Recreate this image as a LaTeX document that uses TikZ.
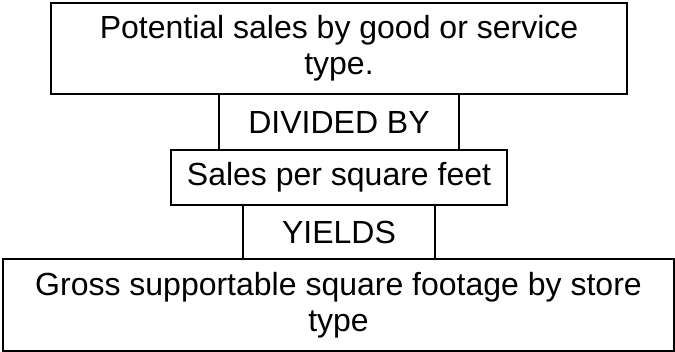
\documentclass[tikz,border=0pt]{standalone}
\usepackage{fontspec}
\setmainfont{Liberation Sans}
\usetikzlibrary{positioning}

\begin{document}
\begin{tikzpicture}[x=1pt, y=-1pt, line width=2.6pt,
  boxnode/.style={rectangle, draw=black, inner sep=0pt, align=center,
    font=\fontsize{32}{36}\selectfont}]
  \useasboundingbox (0,0) rectangle (675,352);

  \node[boxnode, minimum width=576pt, minimum height=91pt] (potential) at (339,48.5)
{Potential sales by good or service\\type.};
  \node[boxnode, minimum width=240pt, minimum height=56pt] (divided) at (339,122)
{DIVIDED BY};
  \node[boxnode, minimum width=336pt, minimum height=55pt] (persqft) at (339,177.5)
{Sales per square feet};
  \node[boxnode, minimum width=192pt, minimum height=54pt] (yields) at (339,232)
{YIELDS};
  \node[boxnode, minimum width=671pt, minimum height=92pt] (gross) at (338.5,305)
{Gross supportable square footage by store\\type};
\end{tikzpicture}
\end{document}
